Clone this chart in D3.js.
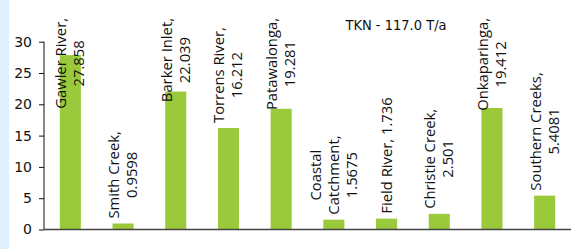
<!doctype html>
<html>
  <head>
    <meta charset="utf-8">
    <title>TKN loads</title>
    <script src="https://d3js.org/d3.v7.min.js"></script>
    <style type="text/css">
      body { margin: 0; background-color: #ffffff; }
      svg { display: block; }
    </style>
  </head>
  <body>
    <script>
      // data
      var categories = ["Gawler River", "Smith Creek", "Barker Inlet", "Torrens River", "Patawalonga",
                        "Coastal Catchment", "Field River", "Christie Creek", "Onkaparinga", "Southern Creeks"];
      var values = [27.858, 0.9598, 22.039, 16.212, 19.281, 1.5675, 1.736, 2.501, 19.412, 5.4081];
      var valueText = ["27.858", "0.9598", "22.039", "16.212", "19.281", "1.5675", "1.736", "2.501", "19.412", "5.4081"];
      var yTicks = [0, 5, 10, 15, 20, 25, 30];
      var title = "TKN - 117.0 T/a";

      var w = 572, h = 249;
      var margin = {left: 44, right: 1, top: 41.7, bottom: 19.5};

      var svg = d3.select("body").append("svg")
        .attr("width", w)
        .attr("height", h);

      // light blue strip on the left edge
      svg.append("rect")
        .attr("x", 0).attr("y", 0)
        .attr("width", 9).attr("height", h)
        .style("fill", "#ddf0fb");

      var x = d3.scaleBand()
        .domain(categories)
        .range([margin.left, w - margin.right])
        .paddingInner(0.6)
        .paddingOuter(0.3);

      var y = d3.scaleLinear()
        .domain([0, 30])
        .range([h - margin.bottom, margin.top]);

      // bars
      svg.append("g").selectAll("rect")
        .data(values)
        .enter()
        .append("rect")
        .attr("x", function(d, i) { return x(categories[i]); })
        .attr("y", function(d) { return y(d); })
        .attr("width", x.bandwidth())
        .attr("height", function(d) { return y(0) - y(d); })
        .style("fill", "#9aca3c");

      // y axis
      var yAxis = svg.append("g")
        .attr("transform", "translate(" + margin.left + ",0)")
        .call(d3.axisLeft(y).tickValues(yTicks).tickSize(5).tickPadding(7));
      yAxis.select(".domain").attr("d", "M0," + y(30) + "V" + y(0)).style("stroke", "#111");
      yAxis.selectAll(".tick line").style("stroke", "#111");
      yAxis.selectAll("text")
        .style("font-family", "'DejaVu Sans', sans-serif")
        .style("font-size", "14px")
        .style("fill", "#111");

      // x axis line
      svg.append("line")
        .attr("x1", margin.left).attr("x2", w - margin.right)
        .attr("y1", y(0)).attr("y2", y(0))
        .style("stroke", "#444")
        .style("stroke-width", 1.5);

      // labels: name split the way the chart wraps it
      function labelLines(i) {
        var name = categories[i];
        if (name == "Coastal Catchment") return ["Coastal", "Catchment,", valueText[i]];
        if (name == "Field River") return [name + ", " + valueText[i]];
        return [name + ",", valueText[i]];
      }

      var lineGap = 18;
      var labelTop = 18;
      var labels = svg.append("g").selectAll("text")
        .data(values)
        .enter()
        .append("text")
        .style("font-family", "'Open Sans', sans-serif")
        .style("font-size", "14.8px")
        .style("fill", "#111")
        .attr("text-anchor", "middle");

      labels.each(function(d, i) {
        var t = d3.select(this);
        var lines = labelLines(i);
        var n = lines.length;
        var cx = x(categories[i]) + x.bandwidth() / 2;
        lines.forEach(function(s, j) {
          t.append("tspan")
            .attr("x", 0)
            .attr("y", cx + 5 - (n - 1) * lineGap / 2 + j * lineGap)
            .text(s);
        });
        // measure, then place block above bar (kept inside the top)
        var len = d3.max(t.selectAll("tspan").nodes(), function(nd) { return nd.getComputedTextLength(); });
        var bottom = y(d) - 5;
        if (bottom - len < labelTop) bottom = labelTop + len;
        var mid = bottom - len / 2;
        t.attr("transform", "rotate(-90) translate(" + (-mid) + ",0)");
      });

      // title
      svg.append("text")
        .attr("x", 396).attr("y", 30)
        .attr("text-anchor", "middle")
        .style("font-family", "'DejaVu Sans Condensed', 'DejaVu Sans', sans-serif")
        .style("font-size", "14.5px")
        .style("fill", "#111")
        .text(title);
    </script>
  </body>
</html>
